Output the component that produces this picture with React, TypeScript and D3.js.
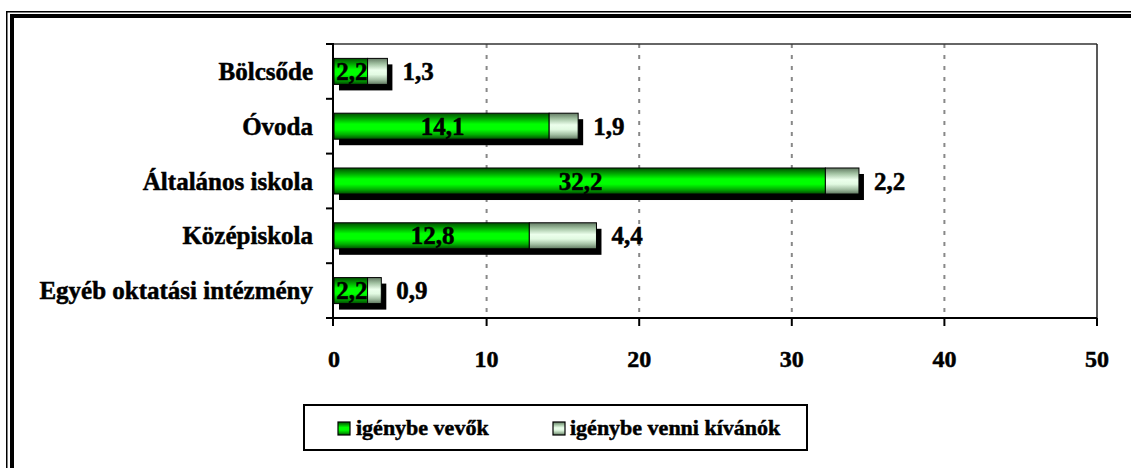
import React from "react";
import * as d3 from "d3";

const categories = ["Bölcsőde", "Óvoda", "Általános iskola", "Középiskola", "Egyéb oktatási intézmény"];
const usersValues = [2.2, 14.1, 32.2, 12.8, 2.2];
const wishValues = [1.3, 1.9, 2.2, 4.4, 0.9];
const xTicks = [0, 10, 20, 30, 40, 50];
const seriesNames = ["igénybe vevők", "igénybe venni kívánók"];

const W = 1131;
const H = 468;
const FONT = '"Liberation Serif", "DejaVu Serif", serif';

const fmt = (v: number) => v.toFixed(1).replace(".", ",");

const txt = (size: number): React.CSSProperties => ({
  fontFamily: FONT,
  fontWeight: 700,
  fontSize: size + "px",
  stroke: "#000",
  strokeWidth: 0.5,
});

export default function App() {
  const x = d3.scaleLinear().domain([0, 50]).range([334, 1097]);
  const y = d3.scaleBand<string>().domain(categories).range([44, 318]).paddingInner(0.525).paddingOuter(0.2625);
  const bw = y.bandwidth();
  const top = 44, bottom = 318, left = 334, right = 1097;
  const shX = 5, shY = 6;

  return (
    <div style={{ position: "absolute", left: 0, top: 0 }}>
      <svg width={W} height={H} style={{ display: "block" }}>
        <defs>
          <linearGradient id="gGreen" x1="0" y1="0" x2="0" y2="1">
            <stop offset="0" stopColor="#005000" />
            <stop offset="0.2" stopColor="#00a000" />
            <stop offset="0.42" stopColor="#00ff00" />
            <stop offset="0.62" stopColor="#00ff00" />
            <stop offset="0.82" stopColor="#00b000" />
            <stop offset="1" stopColor="#004800" />
          </linearGradient>
          <linearGradient id="gLight" x1="0" y1="0" x2="0" y2="1">
            <stop offset="0" stopColor="#627a62" />
            <stop offset="0.22" stopColor="#a4c4a4" />
            <stop offset="0.45" stopColor="#ecffec" />
            <stop offset="0.62" stopColor="#e2fae2" />
            <stop offset="0.82" stopColor="#a4c0a4" />
            <stop offset="1" stopColor="#5e765e" />
          </linearGradient>
        </defs>
        <rect x={0} y={0} width={W} height={H} fill="#ffffff" />
        {/* outer double frame */}
        <rect x={6.75} y={11.75} width={W + 20} height={H + 20} fill="none" stroke="#000" strokeWidth={1.5} />
        <rect x={12} y={16} width={W + 20} height={H + 20} fill="none" stroke="#000" strokeWidth={4} />

        {/* gridlines */}
        {xTicks.filter((t) => t > 0 && t < 50).map((t) => (
          <line key={"g" + t} x1={x(t)} x2={x(t)} y1={top} y2={bottom} stroke="#888" strokeWidth={2} strokeDasharray="4,7" />
        ))}
        {/* plot border */}
        <line x1={left} x2={right} y1={top} y2={top} stroke="#333" strokeWidth={1.5} />
        <line x1={right} x2={right} y1={top} y2={bottom} stroke="#222" strokeWidth={1.5} />

        {/* shadows */}
        {categories.map((c, i) => {
          const total = usersValues[i] + wishValues[i];
          return (
            <rect key={"s" + c} x={x(0) + shX} y={(y(c) as number) + shY} width={x(total) - x(0)} height={bw} fill="#000" />
          );
        })}
        {/* bars */}
        {categories.map((c, i) => {
          const y0 = y(c) as number;
          const a = usersValues[i];
          const b = wishValues[i];
          return (
            <g key={"b" + c}>
              <rect x={x(0)} y={y0} width={x(a) - x(0)} height={bw} fill="url(#gGreen)" stroke="#000" strokeWidth={1} />
              <rect x={x(a)} y={y0} width={x(a + b) - x(a)} height={bw} fill="url(#gLight)" stroke="#000" strokeWidth={1} />
            </g>
          );
        })}
        {/* data labels */}
        {categories.map((c, i) => {
          const yc = (y(c) as number) + bw / 2;
          const a = usersValues[i];
          const b = wishValues[i];
          return (
            <g key={"l" + c} fill="#000">
              <text style={txt(25)} x={(x(0) + x(a)) / 2 + 1} y={yc + 8.5} textAnchor="middle">{fmt(a)}</text>
              <text style={txt(25)} x={x(a + b) + 15} y={yc + 8.5} textAnchor="start">{fmt(b)}</text>
            </g>
          );
        })}

        {/* axes */}
        <line x1={333} x2={333} y1={top - 1} y2={bottom + 1} stroke="#000" strokeWidth={2} />
        <line x1={332} x2={right} y1={bottom} y2={bottom} stroke="#000" strokeWidth={2} />
        {d3.range(categories.length + 1).map((k) => {
          const yy = top + k * y.step();
          return <line key={"yt" + k} x1={326} x2={333} y1={yy} y2={yy} stroke="#000" strokeWidth={2} />;
        })}
        {xTicks.map((t) => (
          <line key={"xt" + t} x1={t === 0 ? 333 : x(t)} x2={t === 0 ? 333 : x(t)} y1={bottom} y2={bottom + 8} stroke="#000" strokeWidth={2} />
        ))}
        {xTicks.map((t) => (
          <text key={"xl" + t} style={txt(24)} x={x(t)} y={367} textAnchor="middle" fill="#000">{t}</text>
        ))}
        {categories.map((c) => (
          <text key={"cl" + c} style={txt(25)} x={313} y={(y(c) as number) + bw / 2 + 8.5} textAnchor="end" fill="#000">{c}</text>
        ))}

        {/* legend */}
        <rect x={304} y={405} width={503} height={45} fill="#fff" stroke="#000" strokeWidth={2} />
        <rect x={338} y={422} width={12} height={13} fill="url(#gGreen)" stroke="#000" strokeWidth={1.2} />
        <text style={txt(22)} x={356} y={435} fill="#000">{seriesNames[0]}</text>
        <rect x={553} y={422} width={12} height={13} fill="url(#gLight)" stroke="#000" strokeWidth={1.2} />
        <text style={txt(22)} x={570} y={435} fill="#000">{seriesNames[1]}</text>
      </svg>
    </div>
  );
}
